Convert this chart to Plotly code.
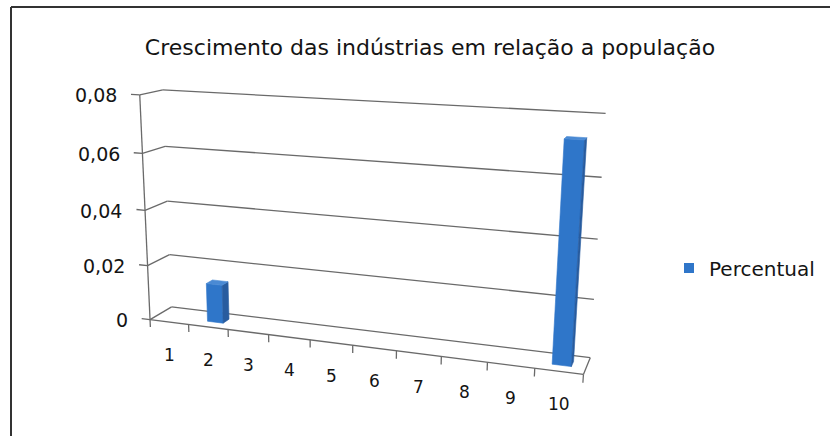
import numpy as np
import plotly.graph_objects as go

# ---------------- data ----------------
categories = ["1", "2", "3", "4", "5", "6", "7", "8", "9", "10"]
percentual = [None, 0.014, None, None, None, None, None, None, None, 0.073]
value_ticks = [0.0, 0.02, 0.04, 0.06, 0.08]
value_tick_labels = ["0", "0,02", "0,04", "0,06", "0,08"]
series_name = "Percentual"
chart_title = "Crescimento das indústrias em relação a população"

# ---------------- canvas / styling ----------------
W, H = 830, 436
FONT = "DejaVu Sans"
TEXT_COLOR = "#141414"
GRID_COLOR = "#6a6a6a"
FACE_COLORS = {"front": "#2F76C9", "right": "#285C9F", "left": "#3A7DCB", "top": "#4A8AD4",
               "back": "#2F76C9", "bottom": "#2F76C9"}
LEGEND_COLOR = "#2F76C9"

# Perspective of the 3-D plot box: world points (category units, depth 0..1,
# fraction of the value range) paired with where they sit on the canvas.
BOX_CALIBRATION = [
    ((0, 0, 0.0), (150, 321)),
    ((0, 0, 1.0), (140, 95)),
    ((0, 1, 0.0), (172, 306)),
    ((0, 1, 1.0), (163, 90)),
    ((0, 1, 0.5), (167, 201)),
    ((0, 1, 0.75), (165, 146)),
    ((10, 1, 0.0), (590, 358)),
    ((10, 1, 1.0), (605, 113)),
    ((10, 1, 0.5), (598, 241)),
    ((10, 1, 0.75), (602, 177)),
    ((10, 0, 0.0), (584, 373)),
    ((5, 0, 0.0), (352, 345)),
]
BAR_GAP = 0.3          # free space on each side of a bar, in category units
BAR_DEPTH = (0.35, 0.65)


def solve_projection(pairs):
    """Direct linear transform: 3x4 camera matrix from 3-D/2-D pairs."""
    wp = np.array([p[0] for p in pairs], float)
    sp = np.array([p[1] for p in pairs], float)
    m = sp.mean(0)
    s = np.sqrt(2) / np.mean(np.linalg.norm(sp - m, axis=1))
    T = np.array([[s, 0, -s * m[0]], [0, s, -s * m[1]], [0, 0, 1]])
    wm = wp.mean(0)
    ws = np.sqrt(3) / np.mean(np.linalg.norm(wp - wm, axis=1))
    U = np.diag([ws, ws, ws, 1.0])
    U[:3, 3] = -ws * wm
    wn = (U @ np.c_[wp, np.ones(len(wp))].T).T
    sn = (T @ np.c_[sp, np.ones(len(sp))].T).T
    rows = []
    for Xh, (x, y, _) in zip(wn, sn):
        rows.append(np.r_[Xh, np.zeros(4), -x * Xh])
        rows.append(np.r_[np.zeros(4), Xh, -y * Xh])
    _, _, vt = np.linalg.svd(np.array(rows))
    Pn = vt[-1].reshape(3, 4)
    return np.linalg.inv(T) @ Pn @ U


P = solve_projection(BOX_CALIBRATION)
_, _, vt = np.linalg.svd(P)
CAM = vt[-1][:3] / vt[-1][3]

vmax = value_ticks[-1]
ncat = len(categories)


def proj(pts):
    pts = np.atleast_2d(np.array(pts, float))
    h = P @ np.c_[pts, np.ones(len(pts))].T
    return list(h[0] / h[2]), list(h[1] / h[2])


def segments(pairs):
    xs, ys = [], []
    for a, b in pairs:
        x, y = proj([a, b])
        xs += x + [None]
        ys += y + [None]
    return xs, ys


fig = go.Figure()

# walls: value gridlines on the side wall and the back wall
grid = []
for t in value_ticks:
    z = t / vmax
    grid.append(((0, 0, z), (0, 1, z)))
    grid.append(((0, 1, z), (ncat, 1, z)))
gx, gy = segments(grid)
fig.add_trace(go.Scatter(x=gx, y=gy, mode="lines", line=dict(color=GRID_COLOR, width=1.3),
                         hoverinfo="skip", showlegend=False))

# bars as shaded cuboids (only faces turned to the camera)
for i, v in enumerate(percentual):
    if v is None:
        continue
    x0, x1 = i + BAR_GAP, i + 1 - BAR_GAP
    y0, y1 = BAR_DEPTH
    z0, z1 = 0.0, v / vmax
    faces = {
        "front": ([(x0, y0, z0), (x1, y0, z0), (x1, y0, z1), (x0, y0, z1)], (1, y0, -1)),
        "back": ([(x0, y1, z0), (x1, y1, z0), (x1, y1, z1), (x0, y1, z1)], (1, y1, 1)),
        "left": ([(x0, y0, z0), (x0, y1, z0), (x0, y1, z1), (x0, y0, z1)], (0, x0, -1)),
        "right": ([(x1, y0, z0), (x1, y1, z0), (x1, y1, z1), (x1, y0, z1)], (0, x1, 1)),
        "bottom": ([(x0, y0, z0), (x1, y0, z0), (x1, y1, z0), (x0, y1, z0)], (2, z0, -1)),
        "top": ([(x0, y0, z1), (x1, y0, z1), (x1, y1, z1), (x0, y1, z1)], (2, z1, 1)),
    }
    for name, (corners, (ax, c, sgn)) in faces.items():
        if (CAM[ax] - c) * sgn <= 0:
            continue
        fx, fy = proj(corners + [corners[0]])
        fig.add_trace(go.Scatter(x=fx, y=fy, mode="lines", fill="toself",
                                 fillcolor=FACE_COLORS[name],
                                 line=dict(color=FACE_COLORS[name], width=0.6),
                                 hoverinfo="skip", showlegend=False))

# floor front edge, right edge, category ticks and the value axis
axis = [((0, 0, 0), (ncat, 0, 0)), ((ncat, 0, 0), (ncat, 1, 0)), ((0, 0, 0), (0, 0, 1))]
for k in range(ncat + 1):
    axis.append(((k, 0, 0), (k, 0, -0.035)))
for t in value_ticks:
    axis.append(((0, 0, t / vmax), (-0.22, 0, t / vmax)))
axx, axy = segments(axis)
fig.add_trace(go.Scatter(x=axx, y=axy, mode="lines", line=dict(color=GRID_COLOR, width=1.3),
                         hoverinfo="skip", showlegend=False))

# legend entry for the series
fig.add_trace(go.Scatter(x=[None], y=[None], mode="markers", name=series_name,
                         marker=dict(symbol="square", size=10, color=LEGEND_COLOR)))

annotations = []
for t, lab in zip(value_ticks, value_tick_labels):
    px, py = proj([(-0.22, 0, t / vmax)])
    annotations.append(dict(x=px[0], y=py[0], text=lab, showarrow=False, xanchor="right",
                            yanchor="middle", xshift=-12, yshift=-1,
                            font=dict(family=FONT, size=19, color=TEXT_COLOR)))
for i, lab in enumerate(categories):
    px, py = proj([(i + 0.5, 0, 0)])
    annotations.append(dict(x=px[0], y=py[0], text=lab, showarrow=False, xanchor="center",
                            yanchor="middle", yshift=-33,
                            font=dict(family=FONT, size=17, color=TEXT_COLOR)))

# chart border (top and left edges)
shapes = [
    dict(type="line", x0=11, y0=7, x1=W, y1=7, line=dict(color="#333333", width=2)),
    dict(type="line", x0=11, y0=7, x1=11, y1=H, line=dict(color="#333333", width=2)),
]

fig.update_layout(
    width=W, height=H, autosize=False,
    margin=dict(l=0, r=0, t=0, b=0),
    paper_bgcolor="white", plot_bgcolor="white",
    xaxis=dict(range=[0, W], visible=False, fixedrange=True),
    yaxis=dict(range=[H, 0], visible=False, fixedrange=True),
    title=dict(text=chart_title, x=430 / W, y=1 - 47 / H, xanchor="center", yanchor="middle",
               font=dict(family=FONT, size=22, color=TEXT_COLOR)),
    legend=dict(x=669 / W, y=1 - 268 / H, xanchor="left", yanchor="middle",
                font=dict(family=FONT, size=20, color=TEXT_COLOR),
                bgcolor="rgba(0,0,0,0)", itemwidth=30),
    annotations=annotations,
    shapes=shapes,
    showlegend=True,
)

fig.write_html("out.html")
